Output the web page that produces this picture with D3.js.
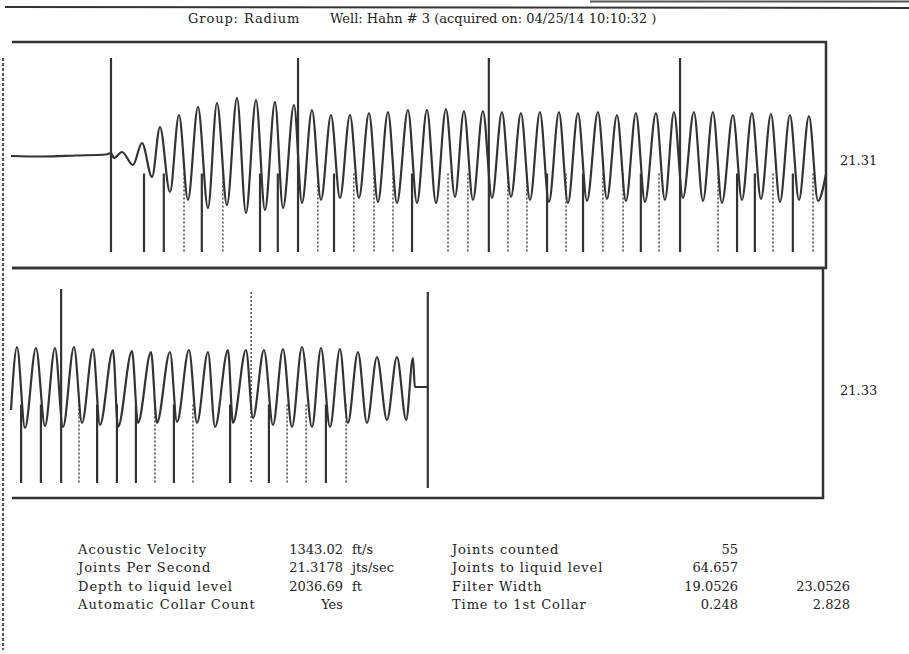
<!DOCTYPE html>
<html>
<head>
<meta charset="utf-8">
<script src="https://cdn.jsdelivr.net/npm/d3@7"></script>
<style>
  body { margin: 0; background: #fff; }
  text { font-family: "DejaVu Serif", "Liberation Serif", serif; fill: #222; }
</style>
</head>
<body>
<script>
// --- data (time in seconds, amplitude in arbitrary units) ---
const titleGroup = "Group: Radium";
const titleWell = "Well: Hahn # 3 (acquired on: 04/25/14 10:10:32 )";
const panelLabels = ["21.31", "21.33"];
const panelDomains = [[0, 2.016], [2.016, 4.032]];

// top panel: quiet lead-in, then peaks and troughs
const topLead = [[0, 0], [0.08, -0.01], [0.16, 0.01], [0.235, 0.03], [0.2473, 0.06], [0.2545, -0.04]];
const topPeaks = [
  [0.2745, 0.08], [0.3240, 0.26], [0.3685, 0.58], [0.4155, 0.82], [0.4625, 0.98], [0.5095, 1.06],
  [0.5590, 1.16], [0.6060, 1.12], [0.6530, 1.08], [0.7000, 1.02], [0.7445, 0.92], [0.7915, 0.82],
  [0.8385, 0.82], [0.8855, 0.86], [0.9325, 0.88], [0.9819, 0.92], [1.0289, 0.92], [1.0759, 0.94],
  [1.1204, 0.90], [1.1674, 0.90], [1.2144, 0.88], [1.2614, 0.86], [1.3084, 0.88], [1.3554, 0.88],
  [1.4024, 0.86], [1.4519, 0.88], [1.4989, 0.82], [1.5459, 0.86], [1.5953, 0.86], [1.6399, 0.88],
  [1.6893, 0.88], [1.7363, 0.88], [1.7858, 0.82], [1.8328, 0.86], [1.8798, 0.84], [1.9268, 0.82],
  [1.9738, 0.80]
];
const topTroughs = [
  [0.3017, -0.18], [0.3488, -0.42], [0.3932, -0.72], [0.4377, -0.88], [0.4872, -1.04], [0.5342, -0.98],
  [0.5812, -1.14], [0.6282, -1.08], [0.6728, -1.04], [0.7198, -0.94], [0.7668, -0.88], [0.8137, -0.84],
  [0.8607, -0.84], [0.9077, -0.92], [0.9547, -0.94], [1.0042, -0.94], [1.0512, -0.94], [1.0982, -0.82],
  [1.1427, -0.88], [1.1897, -0.84], [1.2367, -0.82], [1.2837, -0.88], [1.3307, -0.92], [1.3777, -0.94],
  [1.4247, -0.90], [1.4741, -0.86], [1.5211, -0.90], [1.5681, -0.92], [1.6176, -0.88], [1.6621, -0.84],
  [1.7116, -0.90], [1.7586, -0.94], [1.8081, -0.88], [1.8551, -0.86], [1.9021, -0.92], [1.9491, -0.88],
  [1.9961, -0.90], [2.016, -0.36]
];

// bottom panel
const botPeaks = [
  [2.0308, 0.80], [2.0778, 0.78], [2.1248, 0.78], [2.1718, 0.80], [2.2188, 0.76], [2.2683, 0.74],
  [2.3153, 0.72], [2.3623, 0.70], [2.4093, 0.70], [2.4563, 0.74], [2.5033, 0.70], [2.5527, 0.74],
  [2.5973, 0.74], [2.6418, 0.74], [2.6888, 0.76], [2.7358, 0.80], [2.7828, 0.78], [2.8297, 0.76],
  [2.8742, 0.70], [2.9213, 0.60], [2.9707, 0.60], [3.0103, 0.58]
];
const botTroughs = [
  [2.016, -0.46], [2.0506, -0.82], [2.1001, -0.78], [2.1446, -0.80], [2.1916, -0.72], [2.2361, -0.76],
  [2.2807, -0.80], [2.3301, -0.72], [2.3771, -0.72], [2.4266, -0.70], [2.4761, -0.72], [2.5206, -0.80],
  [2.5651, -0.72], [2.6146, -0.62], [2.6640, -0.76], [2.7110, -0.80], [2.7605, -0.80], [2.8050, -0.80],
  [2.8494, -0.72], [2.8965, -0.72], [2.9460, -0.66], [2.9935, -0.66]
];
const botTail = [[3.0150, 0.0], [3.047, 0.0]];

// collar marks: S = tall marker, D = tall dotted marker, L = liquid level, s = solid tick, d = dotted tick
const topCollarT = [0.2473, 0.329, 0.378, 0.428, 0.472, 0.524, 0.616, 0.660, 0.710, 0.759, 0.799, 0.848,
  0.898, 0.945, 0.992, 1.081, 1.130, 1.182, 1.229, 1.276, 1.326, 1.373, 1.415, 1.464, 1.514, 1.558,
  1.603, 1.655, 1.749, 1.796, 1.840, 1.885, 1.934, 1.984];
const topCollarK = ["S", "s", "s", "d", "s", "d", "s", "s", "S", "d", "s", "d",
  "d", "d", "s", "d", "d", "S", "d", "d", "s", "d", "s", "d", "d", "s",
  "d", "S", "d", "s", "s", "d", "s", "d"];
const botCollarT = [2.041, 2.090, 2.140, 2.184, 2.229, 2.278, 2.325, 2.372, 2.419, 2.466, 2.558, 2.610,
  2.654, 2.699, 2.746, 2.795, 2.845, 3.047];
const botCollarK = ["s", "s", "S", "d", "s", "s", "s", "d", "s", "d", "s", "D",
  "s", "d", "d", "s", "d", "L"];

// summary table
const leftLabels = ["Acoustic Velocity", "Joints Per Second", "Depth to liquid level", "Automatic Collar Count"];
const leftValues = ["1343.02", "21.3178", "2036.69", "Yes"];
const leftUnits = ["ft/s", "jts/sec", "ft", ""];
const rightLabels = ["Joints counted", "Joints to liquid level", "Filter Width", "Time to 1st Collar"];
const rightValues = ["55", "64.657", "19.0526", "0.248"];
const rightValues2 = ["", "", "23.0526", "2.828"];

// --- drawing ---
const W = 909, H = 654;
const svg = d3.select("body").append("svg").attr("width", W).attr("height", H);
const ink = "#333";

// outer scan lines
svg.append("line").attr("x1", 590).attr("x2", W).attr("y1", 1.5).attr("y2", 1.5)
  .attr("stroke", "#555").attr("stroke-width", 2);
svg.append("line").attr("x1", 5).attr("x2", W).attr("y1", 7).attr("y2", 8)
  .attr("stroke", ink).attr("stroke-width", 2);
svg.append("line").attr("x1", 3).attr("x2", 3).attr("y1", 58).attr("y2", 650)
  .attr("stroke", "#555").attr("stroke-width", 2).attr("stroke-dasharray", "3,2");

svg.append("text").attr("x", 188).attr("y", 23)
  .attr("font-size", 13).attr("letter-spacing", 0.9).text(titleGroup);
svg.append("text").attr("x", 330).attr("y", 23)
  .attr("font-size", 13).text(titleWell);

const panels = [
  { y: [266, 46], frame: { left: 12, right: 826, top: 42, bottom: 268 },
    wave: topLead.concat(topPeaks, topTroughs), ct: topCollarT, ck: topCollarK, labelY: 160 },
  { y: [497, 277], frame: { left: 12, right: 823, top: 268, bottom: 498 },
    wave: botPeaks.concat(botTroughs, botTail), ct: botCollarT, ck: botCollarK, labelY: 390 }
];

panels.forEach((p, i) => {
  const x = d3.scaleLinear().domain(panelDomains[i]).range([11, 826]);
  const y = d3.scaleLinear().domain([-2.2, 2.2]).range(p.y);
  const f = p.frame;
  const g = svg.append("g");

  // frame: top, right, bottom
  g.append("path")
    .attr("d", `M${f.left},${f.top}H${f.right}V${f.bottom}H${f.left}`)
    .attr("fill", "none").attr("stroke", ink).attr("stroke-width", 2.5);

  // collar ticks
  const marks = p.ct.map((t, j) => ({ t, k: p.ck[j] }));
  const dotted = k => k === "d" || k === "D";
  g.selectAll(".collar").data(marks).enter().append("line")
    .attr("class", "collar")
    .attr("x1", d => x(d.t)).attr("x2", d => x(d.t))
    .attr("y1", d => d.k === "S" ? y(1.96) : (d.k === "D" || d.k === "L") ? y(1.9) : y(-0.35))
    .attr("y2", d => d.k === "L" ? y(-2.02) : y(-1.92))
    .attr("stroke", d => dotted(d.k) ? "#555" : ink)
    .attr("stroke-width", d => dotted(d.k) ? 1.6 : 2.2)
    .attr("stroke-dasharray", d => dotted(d.k) ? "2,2" : null);

  // waveform
  const pts = p.wave.slice().sort((a, b) => a[0] - b[0]);
  const line = d3.line().x(d => x(d[0])).y(d => y(d[1])).curve(d3.curveMonotoneX);
  g.append("path").datum(pts)
    .attr("d", line)
    .attr("fill", "none").attr("stroke", ink).attr("stroke-width", 2.2);

  g.append("text").attr("x", 840).attr("y", p.labelY + 5)
    .attr("font-size", 13).text(panelLabels[i]);
});

// summary table
const rowY = d3.scalePoint().domain(d3.range(4)).range([554, 609]);
const tbl = svg.append("g").attr("font-size", 13);
leftLabels.forEach((s, i) => {
  tbl.append("text").attr("x", 78).attr("y", rowY(i)).attr("letter-spacing", 1).text(s);
  tbl.append("text").attr("x", 343).attr("y", rowY(i))
    .attr("text-anchor", "end").text(leftValues[i]);
  tbl.append("text").attr("x", 352).attr("y", rowY(i)).text(leftUnits[i]);
  tbl.append("text").attr("x", 452).attr("y", rowY(i)).attr("letter-spacing", 0.9).text(rightLabels[i]);
  tbl.append("text").attr("x", 738).attr("y", rowY(i))
    .attr("text-anchor", "end").text(rightValues[i]);
  tbl.append("text").attr("x", 850).attr("y", rowY(i))
    .attr("text-anchor", "end").text(rightValues2[i]);
});
</script>
</body>
</html>
